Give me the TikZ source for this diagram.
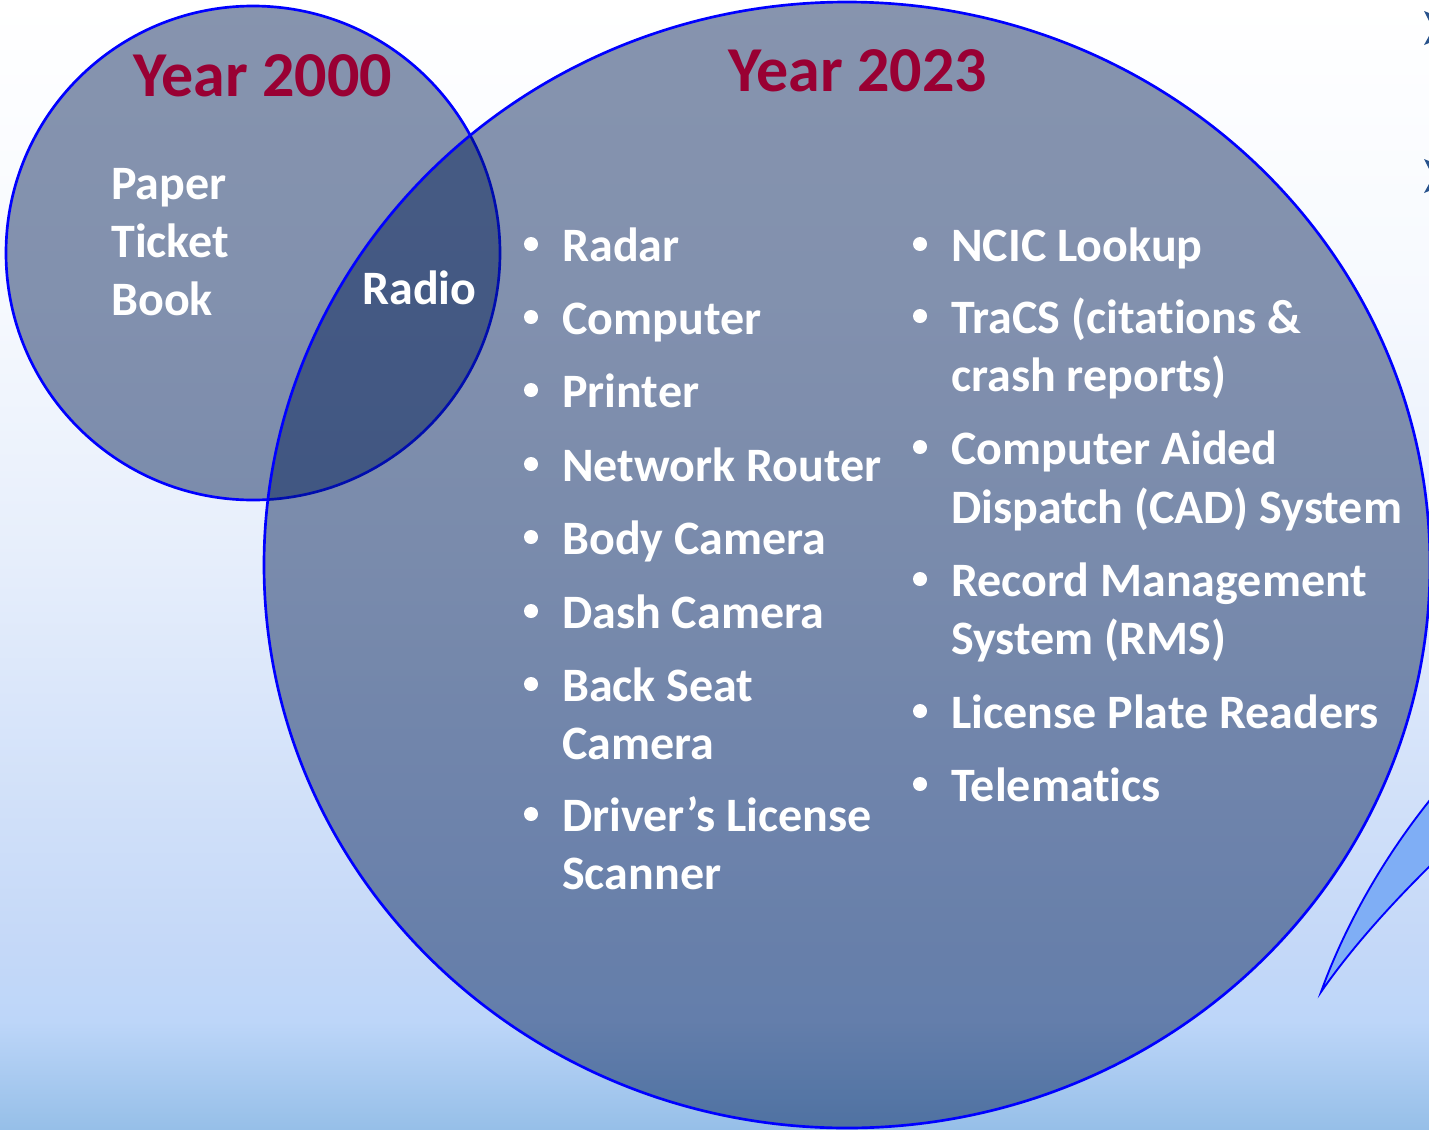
\documentclass[tikz,border=0pt]{standalone}
\usepackage{fontspec}
\setmainfont{Carlito}[Ligatures=NoCommon]
\usetikzlibrary{shapes.geometric}
\definecolor{bg0}{RGB}{255,255,255}
\definecolor{bg1}{RGB}{246,249,254}
\definecolor{bg2}{RGB}{230,238,251}
\definecolor{bg3}{RGB}{196,216,248}
\definecolor{bg4}{RGB}{189,214,249}
\definecolor{bg5}{RGB}{150,191,232}
\definecolor{vennblue}{RGB}{0,28,84}
\definecolor{titlered}{RGB}{153,0,51}
\definecolor{leafblue}{RGB}{127,174,245}
\definecolor{chevblue}{RGB}{40,82,140}
\pgfdeclareverticalshading{bgshade}{100bp}{color(0bp)=(bg5); color(25bp)=(bg5); color(29.8bp)=(bg4); color(32.9bp)=(bg3); color(50.2bp)=(bg2); color(61.7bp)=(bg1); color(75bp)=(bg0); color(100bp)=(bg0)}
\begin{document}
\begin{tikzpicture}[x=0.75pt,y=-0.75pt,
  venn/.style={draw=blue, line width=2pt, fill=vennblue, fill opacity=0.47, inner sep=0pt},
  titletext/.style={anchor=base west, inner sep=0pt, text=titlered, font=\bfseries\fontsize{48pt}{58pt}\selectfont},
  itemtext/.style={anchor=base west, inner sep=0pt, text=white, font=\bfseries\fontsize{36pt}{44pt}\selectfont},
  bulletmark/.style={circle, fill=white, inner sep=0pt, minimum size=10.5pt}]
\useasboundingbox (0,0) rectangle (1429,1129);
\clip (0,0) rectangle (1429,1129);
\shade[shading=bgshade] (0,0) rectangle (1429,1129);

% decorative shapes at right edge
\fill[chevblue] (1424,11) -- (1429,13) -- (1429,21) -- cycle;
\fill[chevblue] (1424,45) -- (1429,36) -- (1429,43) -- cycle;
\fill[chevblue] (1424,159) -- (1429,161) -- (1429,169) -- cycle;
\fill[chevblue] (1424,193) -- (1429,184) -- (1429,191) -- cycle;
\filldraw[fill=leafblue, draw=blue, line width=1.4pt]
  (1321,992) .. controls (1345,925) and (1385,855) .. (1434,795)
  -- (1434,862) .. controls (1390,905) and (1350,950) .. (1321,992) -- cycle;

% circles
\node (old) [venn, circle, minimum size=370.5pt] at (253,253) {};
\node (new) [venn, ellipse, minimum width=874.5pt, minimum height=844.5pt] at (847,565) {};

% titles
\node (t2000) [titletext] at (133,96) {Year 2000};
\node (t2023) [titletext] at (728,91) {Year 2023};

% year 2000 items
\node (paper) [itemtext] at (111,199) {Paper};
\node (ticket) [itemtext] at (111,257) {Ticket};
\node (book) [itemtext] at (111,315) {Book};
\node (radio) [itemtext] at (362,304) {Radio};

% left column
\node (lb1) [bulletmark] at (531,244) {};
\node (l1) [itemtext] at (562,261) {Radar};
\node (lb2) [bulletmark] at (531,317) {};
\node (l2) [itemtext] at (562,334) {Computer};
\node (lb3) [bulletmark] at (531,390) {};
\node (l3) [itemtext] at (562,407) {Printer};
\node (lb4) [bulletmark] at (531,464) {};
\node (l4) [itemtext] at (562,481) {Network Router};
\node (lb5) [bulletmark] at (531,537) {};
\node (l5) [itemtext] at (562,554) {Body Camera};
\node (lb6) [bulletmark] at (531,611) {};
\node (l6) [itemtext] at (562,628) {Dash Camera};
\node (lb7) [bulletmark] at (531,684) {};
\node (l7) [itemtext] at (562,701) {Back Seat};
\node (l7b) [itemtext] at (562,759) {Camera};
\node (lb8) [bulletmark] at (531,814) {};
\node (l8) [itemtext] at (562,831) {Driver’s License};
\node (l8b) [itemtext] at (562,889) {Scanner};

% right column
\node (rb1) [bulletmark] at (920,244) {};
\node (r1) [itemtext] at (951,261) {NCIC Lookup};
\node (rb2) [bulletmark] at (920,316) {};
\node (r2) [itemtext] at (951,333) {TraCS (citations \&};
\node (r2b) [itemtext] at (951,391) {crash reports)};
\node (rb3) [bulletmark] at (920,447) {};
\node (r3) [itemtext] at (951,464) {Computer Aided};
\node (r3b) [itemtext] at (951,523) {Dispatch (CAD) System};
\node (rb4) [bulletmark] at (920,579) {};
\node (r4) [itemtext] at (951,596) {Record Management};
\node (r4b) [itemtext] at (951,654) {System (RMS)};
\node (rb5) [bulletmark] at (920,711) {};
\node (r5) [itemtext] at (951,728) {License Plate Readers};
\node (rb6) [bulletmark] at (920,784) {};
\node (r6) [itemtext] at (951,801) {Telematics};
\end{tikzpicture}
\end{document}
